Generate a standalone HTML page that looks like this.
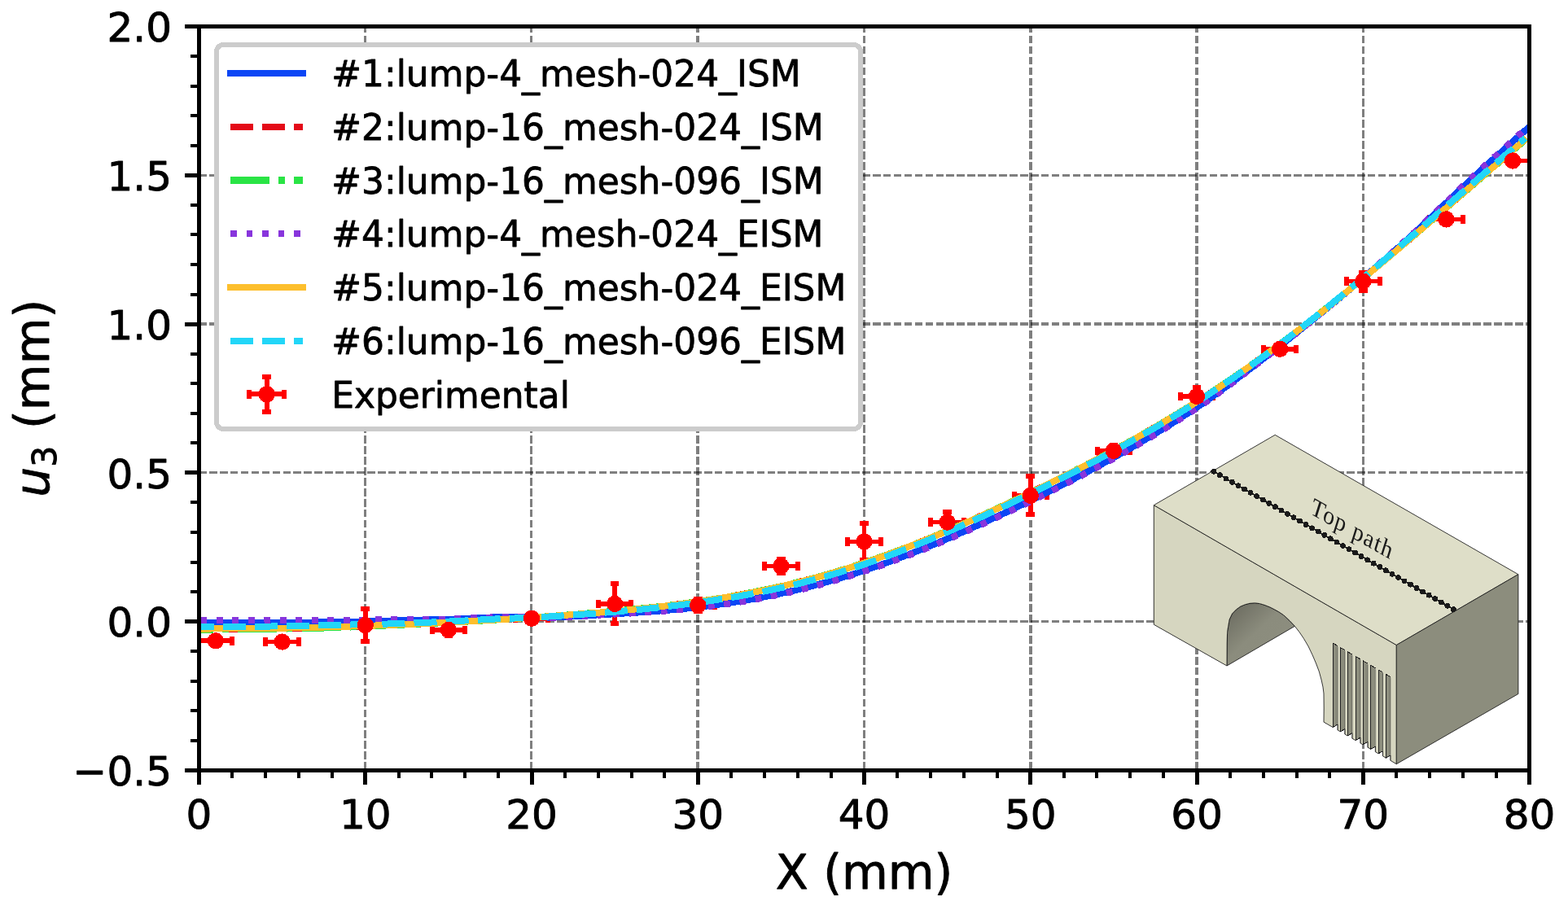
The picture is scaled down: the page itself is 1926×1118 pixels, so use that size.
<!DOCTYPE html>
<html lang="en"><head><meta charset="utf-8"><title>u3 displacement along top path</title>
<style>html,body{margin:0;padding:0;background:#fff;width:1926px;height:1118px;overflow:hidden}</style>
</head><body>
<svg width="1926" height="1118" viewBox="0 0 1926 1118" style="display:block;font-family:'DejaVu Sans','Liberation Sans',sans-serif">
<rect x="0" y="0" width="1926" height="1118" fill="#fff"/>
<defs><clipPath id="ax"><rect x="244.5" y="32.5" width="1634.0" height="914.0"/></clipPath>
<linearGradient id="arch" x1="0" y1="0" x2="1" y2="1"><stop offset="0" stop-color="#66665b"/><stop offset="0.45" stop-color="#8b8c7d"/><stop offset="1" stop-color="#8e8f80"/></linearGradient>
</defs>
<g id="grid" stroke="#000" stroke-opacity="0.5" stroke-dasharray="9.6 3.335" fill="none" shape-rendering="crispEdges">
<line x1="448.5" y1="945.9" x2="448.5" y2="32.5" stroke-width="3"/>
<line x1="652.5" y1="945.9" x2="652.5" y2="32.5" stroke-width="3"/>
<line x1="857" y1="945.9" x2="857" y2="32.5" stroke-width="4"/>
<line x1="1061.5" y1="945.9" x2="1061.5" y2="32.5" stroke-width="3"/>
<line x1="1266" y1="945.9" x2="1266" y2="32.5" stroke-width="4"/>
<line x1="1470" y1="945.9" x2="1470" y2="32.5" stroke-width="4"/>
<line x1="1674.5" y1="945.9" x2="1674.5" y2="32.5" stroke-width="3"/>
<line x1="244.06" y1="763.5" x2="1878.5" y2="763.5" stroke-width="3"/>
<line x1="244.06" y1="580.5" x2="1878.5" y2="580.5" stroke-width="3"/>
<line x1="244.06" y1="398" x2="1878.5" y2="398" stroke-width="4"/>
<line x1="244.06" y1="215.5" x2="1878.5" y2="215.5" stroke-width="3"/>
</g>
<g id="inset" stroke-linejoin="round" shape-rendering="crispEdges">
<polygon points="1507.0,818.0 1507.2,790.0 1507.6,776.1 1510.1,761.2 1513.5,754.0 1518.3,749.0 1523.5,745.2 1529.2,742.8 1535.0,741.3 1541.4,740.8 1547.5,741.6 1553.7,743.5 1560.0,746.0 1565.9,749.0 1571.5,752.2 1576.8,755.8 1584.0,762.5 1590.4,769.3" fill="url(#arch)" stroke="#222" stroke-width="0.9"/>
<polygon points="1417.3,620.6 1715.3,792.5 1715.3,938.7 1707.9,934.3 1707.9,928.0 1702.4,931.1 1698.5,928.9 1698.5,922.7 1693.1,925.8 1689.4,923.7 1689.4,917.1 1683.7,920.4 1680.0,918.2 1680.0,911.3 1674.0,914.8 1671.0,913.0 1671.0,906.1 1665.0,909.6 1660.9,907.2 1660.9,900.7 1655.2,903.9 1651.9,902.0 1651.9,895.6 1646.3,898.8 1643.1,897.0 1643.1,890.0 1637.1,893.5 1626.0,887.1 1626.2,870.0 1626.0,852.0 1625.0,844.1 1623.0,835.0 1620.3,825.1 1616.5,815.0 1612.1,804.7 1607.0,794.0 1601.3,784.3 1596.0,776.5 1590.4,769.3 1584.0,762.5 1576.8,755.8 1571.5,752.2 1565.9,749.0 1560.0,746.0 1553.7,743.5 1547.5,741.6 1541.4,740.8 1535.0,741.3 1529.2,742.8 1523.5,745.2 1518.3,749.0 1513.5,754.0 1510.1,761.2 1507.6,776.1 1507.2,790.0 1507.0,818.0 1417.3,767.3" fill="#d6d6c0" stroke="#222" stroke-width="0.9"/>
<polygon points="1637.1,790.0 1643.1,793.5 1643.1,890.0 1637.1,893.5" fill="#8c8d7d" stroke="none"/>
<path d="M1643.1 793.5L1637.1 790.0V893.5L1643.1 890.0" fill="none" stroke="#222" stroke-width="1"/>
<path d="M1643.1 794.5V897.0" fill="none" stroke="#222" stroke-width="0.6" stroke-opacity="0.75"/>
<polygon points="1646.3,795.4 1651.9,798.7 1651.9,895.6 1646.3,898.8" fill="#8c8d7d" stroke="none"/>
<path d="M1651.9 798.7L1646.3 795.4V898.8L1651.9 895.6" fill="none" stroke="#222" stroke-width="1"/>
<path d="M1651.9 799.7V902.0" fill="none" stroke="#222" stroke-width="0.6" stroke-opacity="0.75"/>
<polygon points="1655.2,800.6 1660.9,804.0 1660.9,900.7 1655.2,903.9" fill="#8c8d7d" stroke="none"/>
<path d="M1660.9 804.0L1655.2 800.6V903.9L1660.9 900.7" fill="none" stroke="#222" stroke-width="1"/>
<path d="M1660.9 805.0V907.2" fill="none" stroke="#222" stroke-width="0.6" stroke-opacity="0.75"/>
<polygon points="1665.0,806.4 1671.0,809.9 1671.0,906.1 1665.0,909.6" fill="#8c8d7d" stroke="none"/>
<path d="M1671.0 809.9L1665.0 806.4V909.6L1671.0 906.1" fill="none" stroke="#222" stroke-width="1"/>
<path d="M1671.0 810.9V913.0" fill="none" stroke="#222" stroke-width="0.6" stroke-opacity="0.75"/>
<polygon points="1674.0,811.7 1680.0,815.2 1680.0,911.3 1674.0,914.8" fill="#8c8d7d" stroke="none"/>
<path d="M1680.0 815.2L1674.0 811.7V914.8L1680.0 911.3" fill="none" stroke="#222" stroke-width="1"/>
<path d="M1680.0 816.2V918.2" fill="none" stroke="#222" stroke-width="0.6" stroke-opacity="0.75"/>
<polygon points="1683.7,817.4 1689.4,820.8 1689.4,917.1 1683.7,920.4" fill="#8c8d7d" stroke="none"/>
<path d="M1689.4 820.8L1683.7 817.4V920.4L1689.4 917.1" fill="none" stroke="#222" stroke-width="1"/>
<path d="M1689.4 821.8V923.7" fill="none" stroke="#222" stroke-width="0.6" stroke-opacity="0.75"/>
<polygon points="1693.1,822.9 1698.5,826.1 1698.5,922.7 1693.1,925.8" fill="#8c8d7d" stroke="none"/>
<path d="M1698.5 826.1L1693.1 822.9V925.8L1698.5 922.7" fill="none" stroke="#222" stroke-width="1"/>
<path d="M1698.5 827.1V928.9" fill="none" stroke="#222" stroke-width="0.6" stroke-opacity="0.75"/>
<polygon points="1702.4,828.4 1707.9,831.6 1707.9,928.0 1702.4,931.1" fill="#8c8d7d" stroke="none"/>
<path d="M1707.9 831.6L1702.4 828.4V931.1L1707.9 928.0" fill="none" stroke="#222" stroke-width="1"/>
<path d="M1707.9 832.6V934.3" fill="none" stroke="#222" stroke-width="0.6" stroke-opacity="0.75"/>
<polygon points="1417.3,620.6 1566.2,534.3 1864.9,705.7 1715.3,792.5" fill="#dedec8" stroke="#222" stroke-width="0.9"/>
<polygon points="1715.3,792.5 1864.9,705.7 1864.9,852.5 1715.3,938.7" fill="#8c8d7d" stroke="#222" stroke-width="0.9"/>
<line x1="1490.8" y1="579.3" x2="1785.4" y2="748.6" stroke="#1a1a1a" stroke-width="1.8"/>
<g fill="#1a1a1a">
<circle cx="1490.8" cy="579.3" r="3.4"/>
<circle cx="1498.4" cy="583.6" r="3.4"/>
<circle cx="1505.9" cy="588.0" r="3.4"/>
<circle cx="1513.5" cy="592.3" r="3.4"/>
<circle cx="1521.0" cy="596.7" r="3.4"/>
<circle cx="1528.6" cy="601.0" r="3.4"/>
<circle cx="1536.1" cy="605.3" r="3.4"/>
<circle cx="1543.7" cy="609.7" r="3.4"/>
<circle cx="1551.2" cy="614.0" r="3.4"/>
<circle cx="1558.8" cy="618.4" r="3.4"/>
<circle cx="1566.3" cy="622.7" r="3.4"/>
<circle cx="1573.9" cy="627.1" r="3.4"/>
<circle cx="1581.4" cy="631.4" r="3.4"/>
<circle cx="1589.0" cy="635.7" r="3.4"/>
<circle cx="1596.6" cy="640.1" r="3.4"/>
<circle cx="1604.1" cy="644.4" r="3.4"/>
<circle cx="1611.7" cy="648.8" r="3.4"/>
<circle cx="1619.2" cy="653.1" r="3.4"/>
<circle cx="1626.8" cy="657.4" r="3.4"/>
<circle cx="1634.3" cy="661.8" r="3.4"/>
<circle cx="1641.9" cy="666.1" r="3.4"/>
<circle cx="1649.4" cy="670.5" r="3.4"/>
<circle cx="1657.0" cy="674.8" r="3.4"/>
<circle cx="1664.5" cy="679.1" r="3.4"/>
<circle cx="1672.1" cy="683.5" r="3.4"/>
<circle cx="1679.6" cy="687.8" r="3.4"/>
<circle cx="1687.2" cy="692.2" r="3.4"/>
<circle cx="1694.8" cy="696.5" r="3.4"/>
<circle cx="1702.3" cy="700.8" r="3.4"/>
<circle cx="1709.9" cy="705.2" r="3.4"/>
<circle cx="1717.4" cy="709.5" r="3.4"/>
<circle cx="1725.0" cy="713.9" r="3.4"/>
<circle cx="1732.5" cy="718.2" r="3.4"/>
<circle cx="1740.1" cy="722.6" r="3.4"/>
<circle cx="1747.6" cy="726.9" r="3.4"/>
<circle cx="1755.2" cy="731.2" r="3.4"/>
<circle cx="1762.7" cy="735.6" r="3.4"/>
<circle cx="1770.3" cy="739.9" r="3.4"/>
<circle cx="1777.8" cy="744.3" r="3.4"/>
<circle cx="1785.4" cy="748.6" r="3.4"/>
</g>
<text transform="matrix(0.868 0.497 0.30 -0.954 1608.3 630.5) scale(1 -1)" font-family="'Liberation Serif','DejaVu Serif',serif" font-size="30px" fill="#1a1a1a" letter-spacing="1.25">Top path</text>
</g>
<g id="err" clip-path="url(#ax)" stroke="#ff0000" fill="none" shape-rendering="crispEdges">
<path d="M244.68 787.28H285.18M264.93 782.16V792.40" stroke-width="5.6"/>
<path d="M285.18 781.98v10.6M259.62 782.16h10.6M259.62 792.40h10.6" stroke-width="6"/>
<path d="M326.38 788.56H366.88M346.62 783.44V793.68" stroke-width="5.6"/>
<path d="M326.38 783.26v10.6M366.88 783.26v10.6M341.32 783.44h10.6M341.32 793.68h10.6" stroke-width="6"/>
<path d="M428.50 768.01H469.00M448.75 748.02V788.01" stroke-width="5.6"/>
<path d="M428.50 762.71v10.6M469.00 762.71v10.6M443.45 748.02h10.6M443.45 788.01h10.6" stroke-width="6"/>
<path d="M530.62 773.94H571.12M550.88 767.36V780.52" stroke-width="5.6"/>
<path d="M530.62 768.64v10.6M571.12 768.64v10.6M545.58 767.36h10.6M545.58 780.52h10.6" stroke-width="6"/>
<path d="M632.75 759.79H673.25M653.00 754.67V764.91" stroke-width="5.6"/>
<path d="M632.75 754.49v10.6M673.25 754.49v10.6M647.70 754.67h10.6M647.70 764.91h10.6" stroke-width="6"/>
<path d="M734.88 741.91H775.38M755.12 717.49V766.33" stroke-width="5.6"/>
<path d="M734.88 736.61v10.6M775.38 736.61v10.6M749.83 717.49h10.6M749.83 766.33h10.6" stroke-width="6"/>
<path d="M837.00 743.59H877.50M857.25 736.10V751.09" stroke-width="5.6"/>
<path d="M837.00 738.29v10.6M877.50 738.29v10.6M851.95 736.10h10.6M851.95 751.09h10.6" stroke-width="6"/>
<path d="M939.12 695.52H979.62M959.38 687.00V704.03" stroke-width="5.6"/>
<path d="M939.12 690.22v10.6M979.62 690.22v10.6M954.08 687.00h10.6M954.08 704.03h10.6" stroke-width="6"/>
<path d="M1041.25 665.39H1081.75M1061.50 642.72V688.06" stroke-width="5.6"/>
<path d="M1041.25 660.09v10.6M1081.75 660.09v10.6M1056.20 642.72h10.6M1056.20 688.06h10.6" stroke-width="6"/>
<path d="M1143.38 641.59H1183.88M1163.62 628.54V654.64" stroke-width="5.6"/>
<path d="M1143.38 636.29v10.6M1183.88 636.29v10.6M1158.33 628.54h10.6M1158.33 654.64h10.6" stroke-width="6"/>
<path d="M1245.50 608.87H1286.00M1265.75 585.29V632.45" stroke-width="5.6"/>
<path d="M1245.50 603.57v10.6M1286.00 603.57v10.6M1260.45 585.29h10.6M1260.45 632.45h10.6" stroke-width="6"/>
<path d="M1347.62 553.85H1388.12M1367.88 546.53V561.16" stroke-width="5.6"/>
<path d="M1347.62 548.55v10.6M1388.12 548.55v10.6M1362.58 546.53h10.6M1362.58 561.16h10.6" stroke-width="6"/>
<path d="M1449.75 486.94H1490.25M1470.00 476.23V497.65" stroke-width="5.6"/>
<path d="M1449.75 481.64v10.6M1490.25 481.64v10.6M1464.70 476.23h10.6M1464.70 497.65h10.6" stroke-width="6"/>
<path d="M1551.88 428.81H1592.38M1572.12 423.69V433.93" stroke-width="5.6"/>
<path d="M1551.88 423.51v10.6M1592.38 423.51v10.6M1566.83 423.69h10.6M1566.83 433.93h10.6" stroke-width="6"/>
<path d="M1654.00 345.64H1694.50M1674.25 334.67V356.60" stroke-width="5.6"/>
<path d="M1654.00 340.34v10.6M1694.50 340.34v10.6M1668.95 334.67h10.6M1668.95 356.60h10.6" stroke-width="6"/>
<path d="M1756.12 269.41H1796.62M1776.38 264.29V274.53" stroke-width="5.6"/>
<path d="M1756.12 264.11v10.6M1796.62 264.11v10.6M1771.08 264.29h10.6M1771.08 274.53h10.6" stroke-width="6"/>
<path d="M1837.83 197.50H1878.33M1858.08 192.38V202.61" stroke-width="5.6"/>
<path d="M1837.83 192.20v10.6M1852.78 192.38h10.6M1852.78 202.61h10.6" stroke-width="6"/>
</g>
<g id="curves" clip-path="url(#ax)" fill="none" stroke-width="8" stroke-linejoin="round" shape-rendering="crispEdges">
<path d="M234.3 764.8L242.5 764.8L250.8 764.8L259.0 764.8L267.3 764.9L275.5 764.9L283.8 764.9L292.0 765.0L300.3 765.0L308.6 765.0L316.8 765.0L325.1 765.0L333.3 764.9L341.6 764.9L349.8 764.9L358.1 764.8L366.3 764.7L374.6 764.7L382.8 764.6L391.1 764.5L399.3 764.4L407.6 764.4L415.8 764.3L424.1 764.2L432.3 764.1L440.6 763.9L448.8 763.7L457.1 763.4L465.3 763.2L473.6 762.9L481.8 762.6L490.1 762.4L498.3 762.1L506.6 761.9L514.8 761.8L523.1 761.6L531.3 761.4L539.6 761.2L547.9 760.9L556.1 760.6L564.4 760.3L572.6 759.9L580.9 759.5L589.1 759.1L597.4 758.8L605.6 758.4L613.9 758.1L622.1 757.9L630.4 757.8L638.6 757.7L646.9 757.7L655.1 757.8L663.4 758.1L671.6 758.5L679.9 758.5L688.1 758.2L696.4 757.8L704.6 757.3L712.9 756.8L721.1 756.3L729.4 755.7L737.6 755.2L745.9 754.8L754.1 754.3L762.4 753.8L770.6 753.3L778.9 752.8L787.2 752.3L795.4 751.7L803.7 751.1L811.9 750.4L820.2 749.7L828.4 749.0L836.7 748.2L844.9 747.4L853.2 746.5L861.4 745.5L869.7 744.4L877.9 743.3L886.2 742.2L894.4 741.0L902.7 739.7L910.9 738.3L919.2 736.9L927.4 735.5L935.7 733.9L943.9 732.3L952.2 730.6L960.4 728.8L968.7 727.0L976.9 725.1L985.2 723.1L993.4 721.0L1001.7 718.8L1009.9 716.6L1018.2 714.3L1026.5 711.9L1034.7 709.4L1043.0 706.9L1051.2 704.3L1059.5 701.6L1067.7 698.8L1076.0 696.0L1084.2 693.1L1092.5 690.1L1100.7 687.0L1109.0 683.9L1117.2 680.8L1125.5 677.6L1133.7 674.3L1142.0 670.9L1150.2 667.5L1158.5 664.1L1166.7 660.6L1175.0 657.0L1183.2 653.4L1191.5 649.7L1199.7 646.0L1208.0 642.3L1216.2 638.5L1224.5 634.7L1232.7 630.9L1241.0 627.0L1249.2 623.0L1257.5 619.1L1265.7 615.1L1274.0 611.1L1282.3 607.1L1290.5 602.9L1298.8 598.8L1307.0 594.6L1315.3 590.3L1323.5 586.0L1331.8 581.7L1340.0 577.3L1348.3 572.9L1356.5 568.5L1364.8 563.9L1373.0 559.4L1381.3 554.7L1389.5 550.1L1397.8 545.3L1406.0 540.5L1414.3 535.6L1422.5 530.6L1430.8 525.6L1439.0 520.5L1447.3 515.3L1455.5 510.0L1463.8 504.7L1472.0 499.2L1480.3 493.6L1488.5 487.8L1496.8 481.9L1505.0 475.9L1513.3 469.7L1521.6 463.6L1529.8 457.4L1538.1 451.2L1546.3 444.9L1554.6 438.6L1562.8 432.2L1571.1 425.8L1579.3 419.3L1587.6 412.8L1595.8 406.3L1604.1 399.7L1612.3 393.1L1620.6 386.4L1628.8 379.7L1637.1 373.0L1645.3 366.2L1653.6 359.3L1661.8 352.4L1670.1 345.4L1678.3 338.3L1686.6 331.2L1694.8 324.1L1703.1 316.9L1711.3 309.6L1719.6 302.3L1727.8 294.9L1736.1 287.4L1744.3 279.7L1752.6 271.9L1760.9 263.9L1769.1 256.1L1777.4 248.3L1785.6 240.5L1793.9 232.8L1802.1 225.0L1810.4 217.4L1818.6 209.8L1826.9 202.2L1835.1 194.7L1843.4 187.3L1851.6 179.8L1859.9 172.4L1868.1 165.0L1876.4 157.6L1884.6 150.3" stroke="#0c46f5"/>
<path d="M234.3 773.5L242.5 773.5L250.7 773.5L258.9 773.5L267.1 773.5L275.3 773.4L283.5 773.4L291.7 773.3L299.9 773.3L308.1 773.2L316.3 773.1L324.5 773.0L332.7 772.9L340.9 772.7L349.1 772.6L357.3 772.4L365.5 772.3L373.7 772.1L381.9 771.9L390.1 771.7L398.3 771.5L406.5 771.3L414.7 771.1L422.9 770.8L431.1 770.5L439.3 770.1L447.5 769.8L455.7 769.4L463.9 769.0L472.1 768.6L480.3 768.2L488.5 767.9L496.7 767.5L504.9 767.1L513.1 766.7L521.3 766.3L529.5 765.9L537.7 765.5L545.9 765.1L554.1 764.7L562.3 764.2L570.5 763.8L578.7 763.3L586.9 762.8L595.1 762.4L603.3 761.9L611.5 761.4L619.7 760.9L627.9 760.3L636.1 759.8L644.3 759.3L652.5 758.7L660.7 758.1L668.9 757.5L677.1 757.0L685.3 756.3L693.5 755.7L701.7 755.1L709.9 754.5L718.1 753.8L726.3 753.1L734.5 752.4L742.7 751.7L750.9 751.0L759.1 750.3L767.3 749.5L775.5 748.7L783.7 747.9L791.9 747.0L800.1 746.2L808.3 745.2L816.5 744.3L824.7 743.3L832.9 742.3L841.1 741.2L849.3 740.1L857.5 738.9L865.7 737.7L873.9 736.5L882.1 735.2L890.3 733.8L898.5 732.4L906.7 731.0L914.9 729.4L923.1 727.9L931.3 726.2L939.5 724.6L947.7 722.8L955.9 721.0L964.1 719.1L972.3 717.2L980.5 715.1L988.7 713.1L996.9 710.9L1005.1 708.7L1013.3 706.4L1021.5 704.0L1029.7 701.5L1037.9 699.0L1046.2 696.4L1054.4 693.7L1062.6 691.0L1070.8 688.1L1079.0 685.2L1087.2 682.3L1095.4 679.3L1103.6 676.2L1111.8 673.1L1120.0 669.9L1128.2 666.6L1136.4 663.3L1144.6 660.0L1152.8 656.5L1161.0 653.1L1169.2 649.6L1177.4 646.0L1185.6 642.4L1193.8 638.8L1202.0 635.1L1210.2 631.4L1218.4 627.6L1226.6 623.8L1234.8 620.0L1243.0 616.1L1251.2 612.2L1259.4 608.3L1267.6 604.3L1275.8 600.3L1284.0 596.3L1292.2 592.3L1300.4 588.2L1308.6 584.1L1316.8 579.9L1325.0 575.7L1333.2 571.5L1341.4 567.2L1349.6 562.9L1357.8 558.6L1366.0 554.2L1374.2 549.7L1382.4 545.2L1390.6 540.7L1398.8 536.0L1407.0 531.4L1415.2 526.6L1423.4 521.9L1431.6 517.0L1439.8 512.1L1448.0 507.1L1456.2 502.1L1464.4 496.9L1472.6 491.8L1480.8 486.5L1489.0 481.2L1497.2 475.7L1505.4 470.2L1513.6 464.7L1521.8 459.0L1530.0 453.3L1538.2 447.5L1546.4 441.6L1554.6 435.6L1562.8 429.6L1571.0 423.5L1579.2 417.3L1587.4 411.1L1595.6 404.8L1603.8 398.5L1612.0 392.1L1620.2 385.6L1628.4 379.1L1636.6 372.6L1644.8 366.0L1653.0 359.4L1661.2 352.7L1669.4 346.0L1677.6 339.2L1685.8 332.4L1694.0 325.6L1702.2 318.7L1710.4 311.8L1718.6 304.9L1726.8 298.0L1735.0 291.0L1743.2 284.0L1751.4 277.0L1759.6 269.9L1767.8 262.9L1776.0 255.9L1784.2 248.8L1792.4 241.7L1800.6 234.6L1808.8 227.6L1817.0 220.5L1825.2 213.4L1833.4 206.3L1841.6 199.3L1849.8 192.2L1858.0 185.1L1866.2 178.1L1874.4 171.1" stroke="#e40a18" stroke-dasharray="27.8 11.3"/>
<path d="M234.3 773.5L242.5 773.5L250.7 773.5L258.9 773.5L267.1 773.5L275.3 773.4L283.5 773.4L291.7 773.3L299.9 773.3L308.1 773.2L316.3 773.1L324.5 773.0L332.7 772.9L340.9 772.7L349.1 772.6L357.3 772.4L365.5 772.3L373.7 772.1L381.9 771.9L390.1 771.7L398.3 771.5L406.5 771.3L414.7 771.1L422.9 770.8L431.1 770.5L439.3 770.1L447.5 769.8L455.7 769.4L463.9 769.0L472.1 768.6L480.3 768.2L488.5 767.9L496.7 767.5L504.9 767.1L513.1 766.7L521.3 766.3L529.5 765.9L537.7 765.5L545.9 765.1L554.1 764.7L562.3 764.2L570.5 763.8L578.7 763.3L586.9 762.8L595.1 762.4L603.3 761.9L611.5 761.4L619.7 760.9L627.9 760.3L636.1 759.8L644.3 759.3L652.5 758.7L660.7 758.1L668.9 757.5L677.1 757.0L685.3 756.3L693.5 755.7L701.7 755.1L709.9 754.5L718.1 753.8L726.3 753.1L734.5 752.4L742.7 751.7L750.9 751.0L759.1 750.3L767.3 749.5L775.5 748.7L783.7 747.9L791.9 747.0L800.1 746.2L808.3 745.2L816.5 744.3L824.7 743.3L832.9 742.3L841.1 741.2L849.3 740.1L857.5 738.9L865.7 737.7L873.9 736.5L882.1 735.2L890.3 733.8L898.5 732.4L906.7 731.0L914.9 729.4L923.1 727.9L931.3 726.2L939.5 724.6L947.7 722.8L955.9 721.0L964.1 719.1L972.3 717.2L980.5 715.1L988.7 713.1L996.9 710.9L1005.1 708.7L1013.3 706.4L1021.5 704.0L1029.7 701.5L1037.9 699.0L1046.2 696.4L1054.4 693.7L1062.6 691.0L1070.8 688.1L1079.0 685.2L1087.2 682.3L1095.4 679.3L1103.6 676.2L1111.8 673.1L1120.0 669.9L1128.2 666.6L1136.4 663.3L1144.6 660.0L1152.8 656.5L1161.0 653.1L1169.2 649.6L1177.4 646.0L1185.6 642.4L1193.8 638.8L1202.0 635.1L1210.2 631.4L1218.4 627.6L1226.6 623.8L1234.8 620.0L1243.0 616.1L1251.2 612.2L1259.4 608.3L1267.6 604.3L1275.8 600.3L1284.0 596.3L1292.2 592.3L1300.4 588.2L1308.6 584.1L1316.8 579.9L1325.0 575.7L1333.2 571.5L1341.4 567.2L1349.6 562.9L1357.8 558.6L1366.0 554.2L1374.2 549.7L1382.4 545.2L1390.6 540.7L1398.8 536.0L1407.0 531.4L1415.2 526.6L1423.4 521.9L1431.6 517.0L1439.8 512.1L1448.0 507.1L1456.2 502.1L1464.4 496.9L1472.6 491.8L1480.8 486.5L1489.0 481.2L1497.2 475.7L1505.4 470.2L1513.6 464.7L1521.8 459.0L1530.0 453.3L1538.2 447.5L1546.4 441.6L1554.6 435.6L1562.8 429.6L1571.0 423.5L1579.2 417.3L1587.4 411.1L1595.6 404.8L1603.8 398.5L1612.0 392.1L1620.2 385.6L1628.4 379.1L1636.6 372.6L1644.8 366.0L1653.0 359.4L1661.2 352.7L1669.4 346.0L1677.6 339.2L1685.8 332.4L1694.0 325.6L1702.2 318.7L1710.4 311.8L1718.6 304.9L1726.8 298.0L1735.0 291.0L1743.2 284.0L1751.4 277.0L1759.6 269.9L1767.8 262.9L1776.0 255.9L1784.2 248.8L1792.4 241.7L1800.6 234.6L1808.8 227.6L1817.0 220.5L1825.2 213.4L1833.4 206.3L1841.6 199.3L1849.8 192.2L1858.0 185.1L1866.2 178.1L1874.4 171.1" stroke="#2ae445" stroke-dasharray="47.8 11.3 7.8 11.3" stroke-dashoffset="20"/>
<path d="M246.5 762.1L254.7 762.1L262.9 762.1L271.1 762.1L279.3 762.2L287.5 762.2L295.7 762.2L303.9 762.2L312.1 762.3L320.3 762.3L328.4 762.2L336.6 762.2L344.8 762.1L353.0 762.1L361.2 762.0L369.4 762.0L377.6 761.9L385.8 761.8L394.0 761.7L402.2 761.7L410.4 761.6L418.5 761.6L426.7 761.6L434.9 761.5L443.1 761.5L451.3 761.5L459.5 761.4L467.7 761.4L475.9 761.3L484.1 761.2L492.3 761.1L500.4 761.0L508.6 760.9L516.8 760.9L525.0 760.8L533.2 760.8L541.4 760.6L549.6 760.5L557.8 760.2L566.0 760.0L574.2 759.6L582.3 759.3L590.5 759.0L598.7 758.7L606.9 758.3L615.1 758.1L623.3 757.9L631.5 757.8L639.7 757.8L647.9 757.9L656.1 757.9L664.3 758.3L672.4 758.7L680.6 758.7L688.8 758.3L697.0 758.0L705.2 757.5L713.4 757.0L721.6 756.5L729.8 756.0L738.0 755.5L746.2 755.1L754.3 754.6L762.5 754.2L770.7 753.7L778.9 753.3L787.1 752.8L795.3 752.2L803.5 751.6L811.7 751.0L819.9 750.3L828.1 749.7L836.3 748.9L844.4 748.1L852.6 747.2L860.8 746.3L869.0 745.3L877.2 744.2L885.4 743.1L893.6 742.0L901.8 740.7L910.0 739.4L918.2 738.1L926.3 736.6L934.5 735.1L942.7 733.6L950.9 731.9L959.1 730.2L967.3 728.4L975.5 726.5L983.7 724.5L991.9 722.5L1000.1 720.4L1008.3 718.2L1016.4 715.9L1024.6 713.5L1032.8 711.1L1041.0 708.6L1049.2 706.0L1057.4 703.3L1065.6 700.6L1073.8 697.8L1082.0 694.9L1090.2 692.0L1098.3 689.0L1106.5 686.0L1114.7 682.8L1122.9 679.7L1131.1 676.4L1139.3 673.1L1147.5 669.8L1155.7 666.4L1163.9 662.9L1172.1 659.4L1180.3 655.8L1188.4 652.2L1196.6 648.5L1204.8 644.8L1213.0 641.1L1221.2 637.3L1229.4 633.5L1237.6 629.7L1245.8 625.8L1254.0 621.9L1262.2 618.0L1270.3 614.0L1278.5 610.0L1286.7 605.9L1294.9 601.8L1303.1 597.7L1311.3 593.5L1319.5 589.2L1327.7 585.0L1335.9 580.6L1344.1 576.3L1352.2 571.9L1360.4 567.4L1368.6 562.9L1376.8 558.3L1385.0 553.7L1393.2 549.0L1401.4 544.3L1409.6 539.5L1417.8 534.6L1426.0 529.6L1434.2 524.6L1442.3 519.5L1450.5 514.3L1458.7 509.1L1466.9 503.7L1475.1 498.3L1483.3 492.6L1491.5 486.8L1499.7 480.8L1507.9 474.8L1516.1 468.6L1524.2 462.4L1532.4 456.3L1540.6 450.0L1548.8 443.7L1557.0 437.4L1565.2 431.0L1573.4 424.5L1581.6 418.0L1589.8 411.4L1598.0 404.9L1606.2 398.2L1614.3 391.6L1622.5 384.9L1630.7 378.2L1638.9 371.4L1647.1 364.6L1655.3 357.7L1663.5 350.7L1671.7 343.7L1679.9 336.6L1688.1 329.5L1696.2 322.3L1704.4 315.1L1712.6 307.8L1720.8 300.4L1729.0 293.0L1737.2 285.5L1745.4 277.8L1753.6 269.9L1761.8 262.0L1770.0 254.2L1778.2 246.5L1786.3 238.7L1794.5 231.0L1802.7 223.3L1810.9 215.6L1819.1 208.1L1827.3 200.5L1835.5 193.1L1843.7 185.6L1851.9 178.2L1860.1 170.9L1868.2 163.5L1876.4 156.1L1884.6 148.8" stroke="#8835dc" stroke-dasharray="7.8 11.7"/>
<path d="M234.3 772.5L242.5 772.5L250.7 772.5L258.9 772.5L267.1 772.4L275.3 772.4L283.5 772.4L291.7 772.3L299.9 772.2L308.1 772.1L316.3 772.1L324.6 771.9L332.8 771.8L341.0 771.7L349.2 771.6L357.4 771.4L365.6 771.2L373.8 771.1L382.0 770.9L390.2 770.7L398.4 770.5L406.6 770.3L414.8 770.0L423.0 769.8L431.2 769.5L439.4 769.3L447.6 769.0L455.8 768.7L464.0 768.4L472.3 768.1L480.5 767.8L488.7 767.5L496.9 767.1L505.1 766.8L513.3 766.4L521.5 766.1L529.7 765.7L537.9 765.3L546.1 764.9L554.3 764.5L562.5 764.0L570.7 763.6L578.9 763.2L587.1 762.7L595.3 762.2L603.5 761.8L611.8 761.3L620.0 760.8L628.2 760.3L636.4 759.7L644.6 759.2L652.8 758.7L661.0 758.1L669.2 757.6L677.4 757.0L685.6 756.4L693.8 755.8L702.0 755.2L710.2 754.6L718.4 754.0L726.6 753.3L734.8 752.7L743.0 752.0L751.2 751.2L759.5 750.5L767.7 749.7L775.9 748.9L784.1 748.1L792.3 747.3L800.5 746.4L808.7 745.5L816.9 744.5L825.1 743.5L833.3 742.5L841.5 741.4L849.7 740.3L857.9 739.1L866.1 737.9L874.3 736.7L882.5 735.4L890.7 734.0L899.0 732.6L907.2 731.1L915.4 729.6L923.6 728.0L931.8 726.4L940.0 724.7L948.2 723.0L956.4 721.1L964.6 719.3L972.8 717.3L981.0 715.3L989.2 713.2L997.4 711.0L1005.6 708.8L1013.8 706.5L1022.0 704.1L1030.2 701.6L1038.5 699.1L1046.7 696.5L1054.9 693.8L1063.1 691.0L1071.3 688.2L1079.5 685.3L1087.7 682.4L1095.9 679.3L1104.1 676.3L1112.3 673.1L1120.5 669.9L1128.7 666.7L1136.9 663.3L1145.1 660.0L1153.3 656.6L1161.5 653.1L1169.7 649.6L1177.9 646.0L1186.2 642.4L1194.4 638.8L1202.6 635.1L1210.8 631.3L1219.0 627.6L1227.2 623.8L1235.4 619.9L1243.6 616.0L1251.8 612.1L1260.0 608.2L1268.2 604.2L1276.4 600.3L1284.6 596.2L1292.8 592.2L1301.0 588.1L1309.2 584.0L1317.4 579.8L1325.7 575.6L1333.9 571.4L1342.1 567.1L1350.3 562.8L1358.5 558.5L1366.7 554.0L1374.9 549.6L1383.1 545.1L1391.3 540.5L1399.5 535.9L1407.7 531.2L1415.9 526.5L1424.1 521.7L1432.3 516.8L1440.5 511.9L1448.7 506.9L1456.9 501.8L1465.1 496.7L1473.4 491.5L1481.6 486.2L1489.8 480.9L1498.0 475.5L1506.2 470.0L1514.4 464.4L1522.6 458.7L1530.8 453.0L1539.0 447.1L1547.2 441.2L1555.4 435.3L1563.6 429.2L1571.8 423.1L1580.0 417.0L1588.2 410.7L1596.4 404.4L1604.6 398.1L1612.9 391.6L1621.1 385.2L1629.3 378.7L1637.5 372.1L1645.7 365.5L1653.9 358.8L1662.1 352.1L1670.3 345.3L1678.5 338.6L1686.7 331.7L1694.9 324.9L1703.1 318.0L1711.3 311.1L1719.5 304.1L1727.7 297.1L1735.9 290.1L1744.1 283.1L1752.4 276.1L1760.6 269.0L1768.8 261.9L1777.0 254.9L1785.2 247.8L1793.4 240.7L1801.6 233.6L1809.8 226.5L1818.0 219.3L1826.2 212.2L1834.4 205.1L1842.6 198.0L1850.8 190.9L1859.0 183.8L1867.2 176.8L1875.4 169.7" stroke="#fdbf2d"/>
<path d="M234.9 770.1L243.1 770.1L251.3 770.1L259.5 770.1L267.7 770.1L275.9 770.0L284.1 770.0L292.2 769.9L300.4 769.9L308.6 769.8L316.8 769.7L325.0 769.6L333.2 769.5L341.4 769.4L349.6 769.3L357.8 769.1L366.0 769.0L374.2 768.8L382.4 768.6L390.6 768.5L398.7 768.3L406.9 768.1L415.1 767.9L423.3 767.7L431.5 767.5L439.7 767.4L447.9 767.2L456.1 767.0L464.3 766.9L472.5 766.6L480.7 766.4L488.9 766.1L497.1 765.9L505.3 765.5L513.4 765.2L521.6 764.9L529.8 764.5L538.0 764.1L546.2 763.8L554.4 763.4L562.6 763.0L570.8 762.5L579.0 762.1L587.2 761.7L595.4 761.2L603.6 760.8L611.8 760.3L619.9 759.9L628.1 759.6L636.3 759.4L644.5 759.1L652.7 758.7L660.9 758.2L669.1 757.8L677.3 757.3L685.5 756.8L693.7 756.2L701.9 755.7L710.1 755.1L718.3 754.5L726.4 753.9L734.6 753.3L742.8 752.7L751.0 752.0L759.2 751.3L767.4 750.5L775.6 749.8L783.8 749.0L792.0 748.2L800.2 747.3L808.4 746.4L816.6 745.5L824.8 744.5L833.0 743.5L841.1 742.5L849.3 741.4L857.5 740.3L865.7 739.1L873.9 737.9L882.1 736.6L890.3 735.3L898.5 734.0L906.7 732.6L914.9 731.1L923.1 729.6L931.3 728.0L939.5 726.4L947.6 724.7L955.8 722.9L964.0 721.1L972.2 719.2L980.4 717.2L988.6 715.1L996.8 713.0L1005.0 710.8L1013.2 708.5L1021.4 706.1L1029.6 703.7L1037.8 701.1L1046.0 698.5L1054.1 695.8L1062.3 693.1L1070.5 690.2L1078.7 687.3L1086.9 684.4L1095.1 681.3L1103.3 678.2L1111.5 675.1L1119.7 671.8L1127.9 668.6L1136.1 665.2L1144.3 661.9L1152.5 658.4L1160.6 654.9L1168.8 651.4L1177.0 647.8L1185.2 644.2L1193.4 640.5L1201.6 636.8L1209.8 633.1L1218.0 629.3L1226.2 625.5L1234.4 621.6L1242.6 617.7L1250.8 613.8L1259.0 609.8L1267.2 605.9L1275.3 601.8L1283.5 597.8L1291.7 593.7L1299.9 589.6L1308.1 585.5L1316.3 581.3L1324.5 577.1L1332.7 572.9L1340.9 568.6L1349.1 564.3L1357.3 559.9L1365.5 555.4L1373.7 551.0L1381.8 546.4L1390.0 541.9L1398.2 537.2L1406.4 532.5L1414.6 527.8L1422.8 523.0L1431.0 518.1L1439.2 513.2L1447.4 508.2L1455.6 503.1L1463.8 498.0L1472.0 492.8L1480.2 487.5L1488.3 482.1L1496.5 476.7L1504.7 471.2L1512.9 465.6L1521.1 459.9L1529.3 454.2L1537.5 448.4L1545.7 442.4L1553.9 436.5L1562.1 430.4L1570.3 424.3L1578.5 418.1L1586.7 411.8L1594.8 405.5L1603.0 399.1L1611.2 392.7L1619.4 386.2L1627.6 379.6L1635.8 373.0L1644.0 366.3L1652.2 359.6L1660.4 352.9L1668.6 346.1L1676.8 339.2L1685.0 332.3L1693.2 325.4L1701.4 318.4L1709.5 311.4L1717.7 304.3L1725.9 297.3L1734.1 290.2L1742.3 283.1L1750.5 276.0L1758.7 268.9L1766.9 261.8L1775.1 254.7L1783.3 247.6L1791.5 240.5L1799.7 233.4L1807.9 226.3L1816.0 219.2L1824.2 212.1L1832.4 205.0L1840.6 197.9L1848.8 190.8L1857.0 183.8L1865.2 176.7L1873.4 169.6" stroke="#22d6f8" stroke-dasharray="28 11.1"/>
</g>
<g id="markers" clip-path="url(#ax)" fill="#ff0000" shape-rendering="crispEdges">
<circle cx="264.93" cy="787.28" r="10.15"/>
<circle cx="346.62" cy="788.56" r="10.15"/>
<circle cx="448.75" cy="768.01" r="10.15"/>
<circle cx="550.88" cy="773.94" r="10.15"/>
<circle cx="653.00" cy="759.79" r="10.15"/>
<circle cx="755.12" cy="741.91" r="10.15"/>
<circle cx="857.25" cy="743.59" r="10.15"/>
<circle cx="959.38" cy="695.52" r="10.15"/>
<circle cx="1061.50" cy="665.39" r="10.15"/>
<circle cx="1163.62" cy="641.59" r="10.15"/>
<circle cx="1265.75" cy="608.87" r="10.15"/>
<circle cx="1367.88" cy="553.85" r="10.15"/>
<circle cx="1470.00" cy="486.94" r="10.15"/>
<circle cx="1572.12" cy="428.81" r="10.15"/>
<circle cx="1674.25" cy="345.64" r="10.15"/>
<circle cx="1776.38" cy="269.41" r="10.15"/>
<circle cx="1858.08" cy="197.50" r="10.15"/>
</g>
<g id="ticks" stroke="#000" fill="none" shape-rendering="crispEdges">
<line x1="244.50" y1="946.5" x2="244.50" y2="964.0" stroke-width="5"/>
<line x1="285.35" y1="946.5" x2="285.35" y2="956.2" stroke-width="4"/>
<line x1="326.20" y1="946.5" x2="326.20" y2="956.2" stroke-width="4"/>
<line x1="367.05" y1="946.5" x2="367.05" y2="956.2" stroke-width="4"/>
<line x1="407.90" y1="946.5" x2="407.90" y2="956.2" stroke-width="4"/>
<line x1="448.75" y1="946.5" x2="448.75" y2="964.0" stroke-width="5"/>
<line x1="489.60" y1="946.5" x2="489.60" y2="956.2" stroke-width="4"/>
<line x1="530.45" y1="946.5" x2="530.45" y2="956.2" stroke-width="4"/>
<line x1="571.30" y1="946.5" x2="571.30" y2="956.2" stroke-width="4"/>
<line x1="612.15" y1="946.5" x2="612.15" y2="956.2" stroke-width="4"/>
<line x1="653.00" y1="946.5" x2="653.00" y2="964.0" stroke-width="5"/>
<line x1="693.85" y1="946.5" x2="693.85" y2="956.2" stroke-width="4"/>
<line x1="734.70" y1="946.5" x2="734.70" y2="956.2" stroke-width="4"/>
<line x1="775.55" y1="946.5" x2="775.55" y2="956.2" stroke-width="4"/>
<line x1="816.40" y1="946.5" x2="816.40" y2="956.2" stroke-width="4"/>
<line x1="857.25" y1="946.5" x2="857.25" y2="964.0" stroke-width="5"/>
<line x1="898.10" y1="946.5" x2="898.10" y2="956.2" stroke-width="4"/>
<line x1="938.95" y1="946.5" x2="938.95" y2="956.2" stroke-width="4"/>
<line x1="979.80" y1="946.5" x2="979.80" y2="956.2" stroke-width="4"/>
<line x1="1020.65" y1="946.5" x2="1020.65" y2="956.2" stroke-width="4"/>
<line x1="1061.50" y1="946.5" x2="1061.50" y2="964.0" stroke-width="5"/>
<line x1="1102.35" y1="946.5" x2="1102.35" y2="956.2" stroke-width="4"/>
<line x1="1143.20" y1="946.5" x2="1143.20" y2="956.2" stroke-width="4"/>
<line x1="1184.05" y1="946.5" x2="1184.05" y2="956.2" stroke-width="4"/>
<line x1="1224.90" y1="946.5" x2="1224.90" y2="956.2" stroke-width="4"/>
<line x1="1265.75" y1="946.5" x2="1265.75" y2="964.0" stroke-width="5"/>
<line x1="1306.60" y1="946.5" x2="1306.60" y2="956.2" stroke-width="4"/>
<line x1="1347.45" y1="946.5" x2="1347.45" y2="956.2" stroke-width="4"/>
<line x1="1388.30" y1="946.5" x2="1388.30" y2="956.2" stroke-width="4"/>
<line x1="1429.15" y1="946.5" x2="1429.15" y2="956.2" stroke-width="4"/>
<line x1="1470.00" y1="946.5" x2="1470.00" y2="964.0" stroke-width="5"/>
<line x1="1510.85" y1="946.5" x2="1510.85" y2="956.2" stroke-width="4"/>
<line x1="1551.70" y1="946.5" x2="1551.70" y2="956.2" stroke-width="4"/>
<line x1="1592.55" y1="946.5" x2="1592.55" y2="956.2" stroke-width="4"/>
<line x1="1633.40" y1="946.5" x2="1633.40" y2="956.2" stroke-width="4"/>
<line x1="1674.25" y1="946.5" x2="1674.25" y2="964.0" stroke-width="5"/>
<line x1="1715.10" y1="946.5" x2="1715.10" y2="956.2" stroke-width="4"/>
<line x1="1755.95" y1="946.5" x2="1755.95" y2="956.2" stroke-width="4"/>
<line x1="1796.80" y1="946.5" x2="1796.80" y2="956.2" stroke-width="4"/>
<line x1="1837.65" y1="946.5" x2="1837.65" y2="956.2" stroke-width="4"/>
<line x1="1878.50" y1="946.5" x2="1878.50" y2="964.0" stroke-width="5"/>
<line x1="244.5" y1="946.50" x2="227.0" y2="946.50" stroke-width="5"/>
<line x1="244.5" y1="909.94" x2="234.0" y2="909.94" stroke-width="4"/>
<line x1="244.5" y1="873.38" x2="234.0" y2="873.38" stroke-width="4"/>
<line x1="244.5" y1="836.82" x2="234.0" y2="836.82" stroke-width="4"/>
<line x1="244.5" y1="800.26" x2="234.0" y2="800.26" stroke-width="4"/>
<line x1="244.5" y1="763.70" x2="227.0" y2="763.70" stroke-width="5"/>
<line x1="244.5" y1="727.14" x2="234.0" y2="727.14" stroke-width="4"/>
<line x1="244.5" y1="690.58" x2="234.0" y2="690.58" stroke-width="4"/>
<line x1="244.5" y1="654.02" x2="234.0" y2="654.02" stroke-width="4"/>
<line x1="244.5" y1="617.46" x2="234.0" y2="617.46" stroke-width="4"/>
<line x1="244.5" y1="580.90" x2="227.0" y2="580.90" stroke-width="5"/>
<line x1="244.5" y1="544.34" x2="234.0" y2="544.34" stroke-width="4"/>
<line x1="244.5" y1="507.78" x2="234.0" y2="507.78" stroke-width="4"/>
<line x1="244.5" y1="471.22" x2="234.0" y2="471.22" stroke-width="4"/>
<line x1="244.5" y1="434.66" x2="234.0" y2="434.66" stroke-width="4"/>
<line x1="244.5" y1="398.10" x2="227.0" y2="398.10" stroke-width="5"/>
<line x1="244.5" y1="361.54" x2="234.0" y2="361.54" stroke-width="4"/>
<line x1="244.5" y1="324.98" x2="234.0" y2="324.98" stroke-width="4"/>
<line x1="244.5" y1="288.42" x2="234.0" y2="288.42" stroke-width="4"/>
<line x1="244.5" y1="251.86" x2="234.0" y2="251.86" stroke-width="4"/>
<line x1="244.5" y1="215.30" x2="227.0" y2="215.30" stroke-width="5"/>
<line x1="244.5" y1="178.74" x2="234.0" y2="178.74" stroke-width="4"/>
<line x1="244.5" y1="142.18" x2="234.0" y2="142.18" stroke-width="4"/>
<line x1="244.5" y1="105.62" x2="234.0" y2="105.62" stroke-width="4"/>
<line x1="244.5" y1="69.06" x2="234.0" y2="69.06" stroke-width="4"/>
<line x1="244.5" y1="32.50" x2="227.0" y2="32.50" stroke-width="5"/>
</g>
<rect x="244.5" y="32.5" width="1634.0" height="914.0" fill="none" stroke="#000" stroke-width="5" shape-rendering="crispEdges"/>
<g id="xticklabels" font-size="50px" text-anchor="middle" fill="#000" stroke="#000" stroke-width="0.9" stroke-linejoin="round">
<text x="244.50" y="1017.6">0</text>
<text x="448.75" y="1017.6">10</text>
<text x="653.00" y="1017.6">20</text>
<text x="857.25" y="1017.6">30</text>
<text x="1061.50" y="1017.6">40</text>
<text x="1265.75" y="1017.6">50</text>
<text x="1470.00" y="1017.6">60</text>
<text x="1674.25" y="1017.6">70</text>
<text x="1878.50" y="1017.6">80</text>
</g>
<g id="yticklabels" font-size="50px" text-anchor="end" fill="#000" stroke="#000" stroke-width="0.9" stroke-linejoin="round">
<text x="211" y="965.10">−0.5</text>
<text x="211" y="782.30">0.0</text>
<text x="211" y="599.50">0.5</text>
<text x="211" y="416.70">1.0</text>
<text x="211" y="233.90">1.5</text>
<text x="211" y="51.10">2.0</text>
</g>
<text id="xlabel" x="1061.50" y="1092" font-size="58.33px" text-anchor="middle" fill="#000" stroke="#000" stroke-width="0.9" stroke-linejoin="round">X (mm)</text>
<text id="ylabel" transform="translate(59.6 489.30) rotate(-90)" font-size="58.33px" text-anchor="middle" fill="#000" stroke="#000" stroke-width="0.9" stroke-linejoin="round"><tspan font-style="italic">u</tspan><tspan font-size="40.83px" dy="8.92">3</tspan><tspan dy="-8.92" dx="2.4"> (mm)</tspan></text>
<g id="legend">
<rect x="266" y="55" width="791" height="472" rx="8.5" ry="8.5" fill="#fff" stroke="#ccc" stroke-width="6" shape-rendering="crispEdges"/>
<g fill="none" stroke-width="8" shape-rendering="crispEdges">
<line x1="279.1" y1="89.9" x2="375.9" y2="89.9" stroke="#0c46f5"/>
<line x1="283.1" y1="156.0" x2="371.9" y2="156.0" stroke="#e40a18" stroke-dasharray="27.8 11.3"/>
<line x1="283.1" y1="221.5" x2="371.9" y2="221.5" stroke="#2ae445" stroke-dasharray="47.8 11.3 7.8 11.3" stroke-width="9"/>
<line x1="283.1" y1="287.0" x2="371.9" y2="287.0" stroke="#8835dc" stroke-dasharray="7.8 11.7"/>
<line x1="279.1" y1="352.9" x2="375.9" y2="352.9" stroke="#fdbf2d"/>
<line x1="283.1" y1="418.7" x2="371.9" y2="418.7" stroke="#22d6f8" stroke-dasharray="28 11.1"/>
</g>
<g stroke="#ff0000" fill="none" shape-rendering="crispEdges"><path d="M306.0 484.3H349.20000000000005M327.6 462.90000000000003V505.7" stroke-width="6"/><path d="M306.0 478.90000000000003v10.8M349.20000000000005 478.90000000000003v10.8M322.20000000000005 462.90000000000003h10.8M322.20000000000005 505.7h10.8" stroke-width="6"/></g>
<circle cx="327.6" cy="484.3" r="10.3" fill="#ff0000" shape-rendering="crispEdges"/>
<g font-size="43.9px" fill="#000" stroke="#000" stroke-width="0.8" stroke-linejoin="round">
<text x="407.2" y="106.1">#1:lump-4_mesh-024_ISM</text>
<text x="407.2" y="172.2">#2:lump-16_mesh-024_ISM</text>
<text x="407.2" y="237.7">#3:lump-16_mesh-096_ISM</text>
<text x="407.2" y="303.2">#4:lump-4_mesh-024_EISM</text>
<text x="407.2" y="369.1">#5:lump-16_mesh-024_EISM</text>
<text x="407.2" y="434.9">#6:lump-16_mesh-096_EISM</text>
<text x="407.2" y="500.5">Experimental</text>
</g></g>
</svg>
</body></html>
